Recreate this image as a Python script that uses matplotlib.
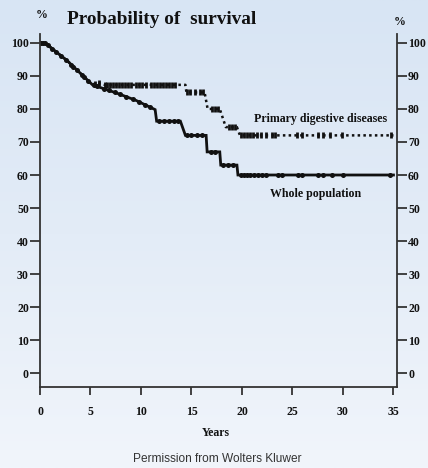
import numpy as np
import matplotlib
matplotlib.use("Agg")
import matplotlib.pyplot as plt
from matplotlib.colors import LinearSegmentedColormap

# ---------------- data ----------------
# curve vertices (years, % surviving); dense early events drawn as a sloping line
whole_t = [0, 0.5, 2.7, 5.2, 7.6, 9.5, 11.4, 11.55, 13.9, 14.4, 16.45, 16.55,
           17.8, 17.9, 19.5, 19.6, 35.0]
whole_s = [100, 100, 94.6, 87.3, 84.8, 82.6, 79.8, 76.3, 76.3, 72.0, 72.0, 67.0,
           67.0, 63.0, 63.0, 60.0, 60.0]

primary_t = [0, 0.5, 2.7, 5.2, 5.6, 6.4, 14.4, 14.5, 16.3, 16.6, 17.8, 18.4,
             19.5, 19.8, 35.0]
primary_s = [100, 100, 94.6, 87.3, 88.0, 87.3, 87.3, 85.0, 85.0, 80.0, 80.0, 74.5,
             74.5, 72.0, 72.0]

whole_censor = [0.1, 0.3, 0.5, 0.8, 1.2, 1.6, 2.1, 2.6, 3.1, 3.3, 3.7, 4.2, 4.4, 4.8,
                5.3, 5.6, 6.3, 6.8, 7.4, 7.9, 8.5, 9.2, 9.8, 10.4, 10.9, 11.8, 12.3,
                12.8, 13.3, 13.7, 14.6, 15.0, 15.5, 16.0, 16.9, 17.3, 18.1, 18.6, 19.1,
                19.9, 20.2, 20.5, 20.8, 21.2, 21.6, 22.0, 22.4, 23.6, 24.0, 25.5, 25.9,
                27.5, 28.0, 28.9, 30.0, 34.7]
primary_censor = [5.4, 5.8, 6.4, 6.6, 6.9, 7.2, 7.5, 7.8, 8.1, 8.4, 8.7, 9.0, 9.5,
                  9.8, 10.1, 10.5, 11.0, 11.3, 11.6, 11.9, 12.2, 12.5, 12.8, 13.1, 13.4,
                  14.6, 14.9, 15.3, 15.8, 16.1, 17.0, 17.3, 17.6, 18.7, 19.0, 19.3,
                  19.9, 20.2, 20.5, 20.8, 21.1, 21.5, 21.9, 22.4, 23.0, 23.3, 25.4,
                  25.9, 27.5, 28.0, 28.7, 29.9, 34.8]

x_ticks = [0, 5, 10, 15, 20, 25, 30, 35]
y_ticks = [0, 10, 20, 30, 40, 50, 60, 70, 80, 90, 100]

title = "Probability of  survival"
label_primary = "Primary digestive diseases"
label_whole = "Whole population"
x_label = "Years"
credit = "Permission from Wolters Kluwer"

# ---------------- figure ----------------
fig = plt.figure(figsize=(4.28, 4.68), dpi=100)
serif = ["Liberation Serif", "DejaVu Serif"]
ink = "#111111"

# background gradient
bg = fig.add_axes([0, 0, 1, 1], zorder=-10)
cmap = LinearSegmentedColormap.from_list("bg", ["#d8e5f4", "#e3ecf7", "#f1f5fb"])
grad = np.linspace(0, 1, 256).reshape(-1, 1)
bg.imshow(grad, aspect="auto", cmap=cmap, extent=[0, 1, 0, 1])
bg.axis("off")

ax = fig.add_axes([40 / 428, 1 - 387 / 468, 357 / 428, 353 / 468])
ax.patch.set_alpha(0)

ax.plot(whole_t, whole_s, color=ink, lw=2.0, solid_joinstyle="miter")
ax.plot(primary_t, primary_s, color=ink, lw=1.8, linestyle=(0, (1.0, 1.3)))

wc = np.array(whole_censor)
ax.plot(wc, np.interp(wc, whole_t, whole_s), "o", color=ink, ms=3.6, mew=0)
pc = np.array(primary_censor)
ax.plot(pc, np.interp(pc, primary_t, primary_s), "|", color=ink, ms=5, mew=2.0)

ax.set_xlim(0, 35.35)
ax.set_ylim(-4.2, 102.7)
ax.set_xticks(x_ticks)
ax.set_yticks(y_ticks)
ax.spines["top"].set_visible(False)
for s in ["left", "right", "bottom"]:
    ax.spines[s].set_color("#333333")
    ax.spines[s].set_linewidth(1.3)
ax.tick_params(axis="y", which="both", direction="out", length=7, width=1.3,
               left=True, right=True, labelleft=True, labelright=True, pad=1,
               color="#333333")
ax.tick_params(axis="x", direction="out", length=6, width=1.3, pad=8, color="#333333")
for lab in ax.get_xticklabels() + ax.get_yticklabels():
    lab.set_fontfamily(serif)
    lab.set_fontweight("bold")
    lab.set_fontsize(8.5)
    lab.set_color(ink)

ax.text(27.8, 77, label_primary, ha="center", va="center", fontfamily=serif,
        fontweight="bold", fontsize=8.6, color=ink)
ax.text(27.3, 54.2, label_whole, ha="center", va="center", fontfamily=serif,
        fontweight="bold", fontsize=8.6, color=ink)

fig.text(67 / 428, 1 - 20 / 468, title, ha="left", va="center", fontfamily=serif,
         fontweight="bold", fontsize=13.9, color=ink)
fig.text(42 / 428, 1 - 15 / 468, "%", ha="center", va="center", fontfamily=serif,
         fontweight="bold", fontsize=8.5, color=ink)
fig.text(400 / 428, 1 - 22 / 468, "%", ha="center", va="center", fontfamily=serif,
         fontweight="bold", fontsize=8.5, color=ink)
fig.text(216 / 428, 1 - 433 / 468, x_label, ha="center", va="center", fontfamily=serif,
         fontweight="bold", fontsize=8.5, color=ink)
fig.text(217 / 428, 1 - 459 / 468, credit, ha="center", va="center",
         fontfamily=["Liberation Sans", "DejaVu Sans"], fontsize=8.6, color="#333333")

fig.savefig("out.png", dpi=100)
